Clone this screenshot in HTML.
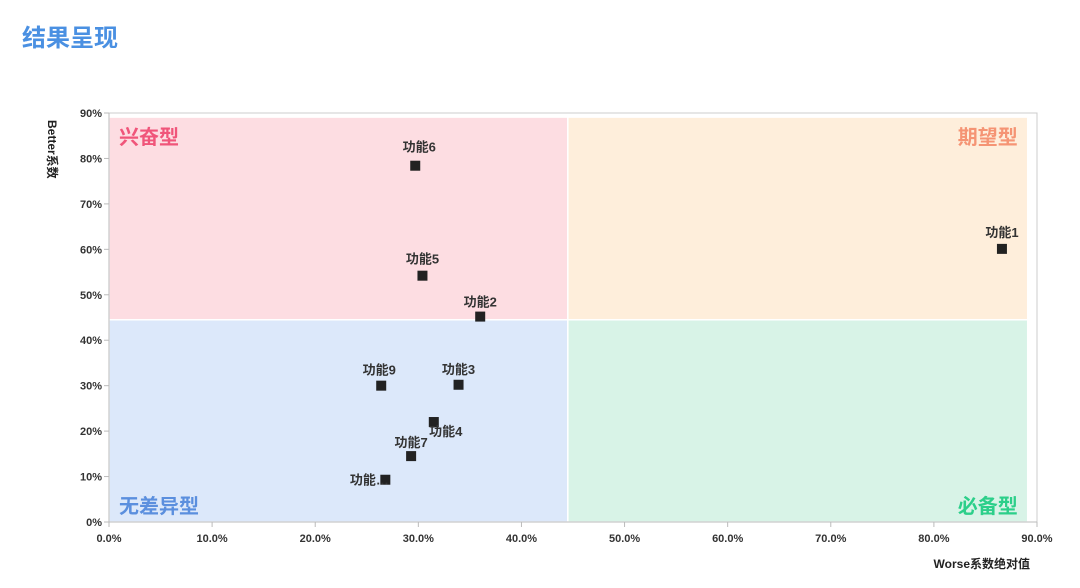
<!DOCTYPE html>
<html><head><meta charset="utf-8"><style>
body{margin:0;background:#fff;width:1080px;height:588px;overflow:hidden;font-family:"Liberation Sans","Noto Sans CJK SC",sans-serif}
</style></head><body>
<div style="position:absolute;left:22px;top:18px;font-size:24px;font-weight:bold;color:#4a90e2;font-family:'Liberation Sans','Noto Sans CJK SC',sans-serif">结果呈现</div>
<svg id="chart" width="1080" height="588" style="position:absolute;left:0;top:0" font-family="Liberation Sans, Noto Sans CJK SC, sans-serif"></svg>
<script>
const names=["功能1","功能2","功能3","功能4","功能5","功能6","功能7","功能…","功能9"];
const worse=[86.6,36.0,33.9,31.5,30.4,29.7,29.3,26.8,26.4];
const better=[60.1,45.2,30.2,22.0,54.2,78.4,14.5,9.3,30.0];
const xTicks=[0,10,20,30,40,50,60,70,80,90];
const yTicks=[0,10,20,30,40,50,60,70,80,90];
const splitX=44.5, splitY=44.5, areaMax=89.1;
const quadrants=[["兴奋型","#fddde2","#f0557a"],["期望型","#feeedb","#f59474"],["无差异型","#dce8fa","#5b8fde"],["必备型","#d8f3e7","#2ccf8a"]];
const labelOffsets=[[0,-12],[0,-10],[0,-11],[12,14],[0,-12],[4,-14],[0,-9],[-16,5],[-2,-11]];
const svg=document.getElementById('chart');const NS='http://www.w3.org/2000/svg';
const X0=109,X1=1037,Y0=522,Y1=113;
const sx=v=>X0+(v/90)*(X1-X0), sy=v=>Y0-(v/90)*(Y0-Y1);
function mk(t,a,p){const e=document.createElementNS(NS,t);for(const k in a)e.setAttribute(k,a[k]);(p||svg).appendChild(e);return e;}
// quadrants
const qd=[[0,splitY,splitX,areaMax],[splitX,splitY,areaMax,areaMax],[0,0,splitX,splitY],[splitX,0,areaMax,splitY]];
qd.forEach((q,i)=>{const r=mk('rect',{x:sx(q[0]),y:sy(q[3]),width:sx(q[2])-sx(q[0]),height:sy(q[1])-sy(q[3]),fill:quadrants[i][1],stroke:'#fff','stroke-width':1.5});

});
const ql=[[sx(0)+10,sy(areaMax)+27,'start'],[sx(areaMax)-10,sy(areaMax)+27,'end'],[sx(0)+10,Y0-9,'start'],[sx(areaMax)-10,Y0-9,'end']];
ql.forEach((p,i)=>{const t=mk('text',{x:p[0],y:p[1],'text-anchor':p[2],'font-size':20,'font-weight':'bold',fill:quadrants[i][2]});t.textContent=quadrants[i][0];

});
// axes
mk('path',{d:`M${X0},${Y1}H${X1}V${Y0}`,stroke:'#ccc',fill:'none'});
mk('line',{x1:X0,y1:Y1,x2:X0,y2:Y0,stroke:'#bbb'});
mk('line',{x1:X0,y1:Y0,x2:X1,y2:Y0,stroke:'#bbb'});
xTicks.forEach(v=>{mk('line',{x1:sx(v),x2:sx(v),y1:Y0,y2:Y0+5,stroke:'#bbb'});const t=mk('text',{x:sx(v),y:Y0+20,'text-anchor':'middle','font-size':11,'font-weight':'bold',fill:'#333'});t.textContent=v.toFixed(1)+'%';

});
yTicks.forEach(v=>{mk('line',{x1:X0-5,x2:X0,y1:sy(v),y2:sy(v),stroke:'#bbb'});const t=mk('text',{x:X0-7,y:sy(v)+4,'text-anchor':'end','font-size':11,'font-weight':'bold',fill:'#333'});t.textContent=v+'%';

});
const xt=mk('text',{x:1030,y:568,'text-anchor':'end','font-size':12,'font-weight':'bold',fill:'#222'});xt.textContent='Worse系数绝对值';


const yt=mk('text',{x:0,y:0,transform:'translate(48,120) rotate(90)','font-size':12,'font-weight':'bold',fill:'#222'});yt.textContent='Better系数';


// points
names.forEach((n,i)=>{const cx=sx(worse[i]),cy=sy(better[i]);
const r=mk('rect',{x:cx-5,y:cy-5,width:10,height:10,fill:'#222'});


const o=labelOffsets[i];
const t=mk('text',{x:cx+o[0],y:cy+o[1],'text-anchor':'middle','font-size':13,'font-weight':'bold',fill:'#333'});t.textContent=n;

});
</script>
</body></html>
